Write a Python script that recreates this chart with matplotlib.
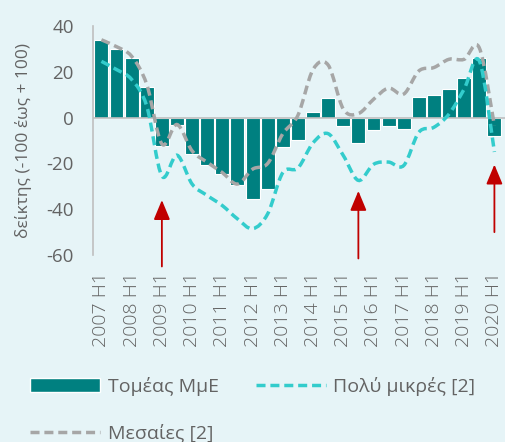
import matplotlib.pyplot as plt
import numpy as np
from matplotlib.path import Path
from matplotlib.patches import PathPatch, Patch
from matplotlib.lines import Line2D

plt.rcParams['font.family'] = ['Open Sans', 'DejaVu Sans']
plt.rcParams['axes.unicode_minus'] = False

# Δεδομένα (εξάμηνα 2007 H1 - 2020 H1)
periods = [f"{y} H{h}" for y in range(2007, 2021) for h in (1, 2)][:27]
tick_labels = [p if p.endswith("H1") else "" for p in periods]

smes = [34, 30, 26, 13.5, -12.3, -3.2, -15.7, -20.7, -24.6, -29.4, -35.5, -31.2,
        -13, -9.7, 2.3, 8.6, -3.6, -11, -5.4, -3.6, -4.8, 9, 9.7, 12.5, 17.5, 26, -8.1]
very_small = [24.6, 21, 16.7, 5, -25.5, -16.4, -29, -34, -38.4, -44.2, -48.5, -42,
              -24, -22, -11, -7, -16.5, -27.4, -20.4, -19.4, -20.9, -6.4, -4.2, 1.6, 12.5, 24.8, -15]
medium = [34, 31, 26.8, 14.5, -11.5, -3, -14.5, -19.5, -24, -29, -22.5, -20,
          -7, 1, 21, 23, 3.8, 1.8, 8, 12.9, 10.3, 20.4, 21.9, 25.5, 25.5, 30.5, -3.5]
arrow_pos = [4, 17, 26]
arrow_tip = [-36, -32, -20.5]
arrow_base = [-65, -61.5, -50]

bg = '#E6F4F7'
teal = '#008080'
cyan = '#33CCCC'
grey = '#A6A6A6'
text_col = '#636363'
dash = (0, (2.6, 1.4))


def smooth_path(x, y):
    # kubikes Bezier opos i "smoothed line" tou Excel
    pts = np.column_stack([x, y]).astype(float)
    verts = [pts[0]]
    codes = [Path.MOVETO]
    n = len(pts)
    for i in range(n - 1):
        p0 = pts[max(i - 1, 0)]
        p1 = pts[i]
        p2 = pts[i + 1]
        p3 = pts[min(i + 2, n - 1)]
        c1 = p1 + (p2 - p0) / 6.0
        c2 = p2 - (p3 - p1) / 6.0
        verts += [c1, c2, p2]
        codes += [Path.CURVE4] * 3
    return Path(verts, codes)


fig = plt.figure(figsize=(5.06, 4.42), dpi=100, facecolor=bg)
ax = fig.add_axes([0.184, 0.423, 0.814, 0.518], facecolor=bg)

x = np.arange(len(periods))
ax.bar(x, smes, width=0.92, color=teal, edgecolor='white', linewidth=0.8, zorder=2)
ax.axhline(0, color='#BFBFBF', linewidth=1.2, zorder=3)

for vals, col in [(medium, grey), (very_small, cyan)]:
    patch = PathPatch(smooth_path(x, vals), fill=False, edgecolor=col, linewidth=2.5,
                      linestyle=dash, zorder=4)
    ax.add_patch(patch)

for px, tip, base in zip(arrow_pos, arrow_tip, arrow_base):
    ax.annotate('', xy=(px, tip), xytext=(px, base), annotation_clip=False,
                arrowprops=dict(arrowstyle='-|>,head_length=1.2,head_width=0.5',
                                color='#C00000', linewidth=1.3, shrinkA=0, shrinkB=0),
                zorder=5)

ax.set_xlim(-0.55, 26.7)
ax.set_ylim(-60, 40)
ax.set_yticks(range(-60, 41, 20))
ax.set_xticks(x)
ax.set_xticklabels(tick_labels, rotation=90, fontsize=14, color=text_col, fontweight='light')
ax.tick_params(axis='y', labelsize=13.5, colors=text_col, length=0, pad=14)
ax.tick_params(axis='x', length=0, pad=12)
for s in ['top', 'right', 'bottom']:
    ax.spines[s].set_visible(False)
ax.spines['left'].set_color('#BFBFBF')
ax.spines['left'].set_linewidth(1.2)
ax.set_ylabel('δείκτης (-100 έως + 100)', fontsize=12.5, color=text_col, labelpad=10)

handles = [Patch(facecolor=teal, edgecolor='white'),
           Line2D([], [], color=grey, linewidth=2.5, linestyle=dash),
           Line2D([], [], color=cyan, linewidth=2.5, linestyle=dash)]
labels = ['Τομέας ΜμΕ', 'Μεσαίες [2]', 'Πολύ μικρές [2]']
fig.legend(handles, labels, ncol=2, loc='upper left', bbox_to_anchor=(0.04, 0.17),
           frameon=False, fontsize=14, labelcolor=text_col, handlelength=3.6,
           handletextpad=0.4, columnspacing=1.9, labelspacing=1.45, borderpad=0)

fig.savefig('out.png', dpi=100, facecolor=bg)
